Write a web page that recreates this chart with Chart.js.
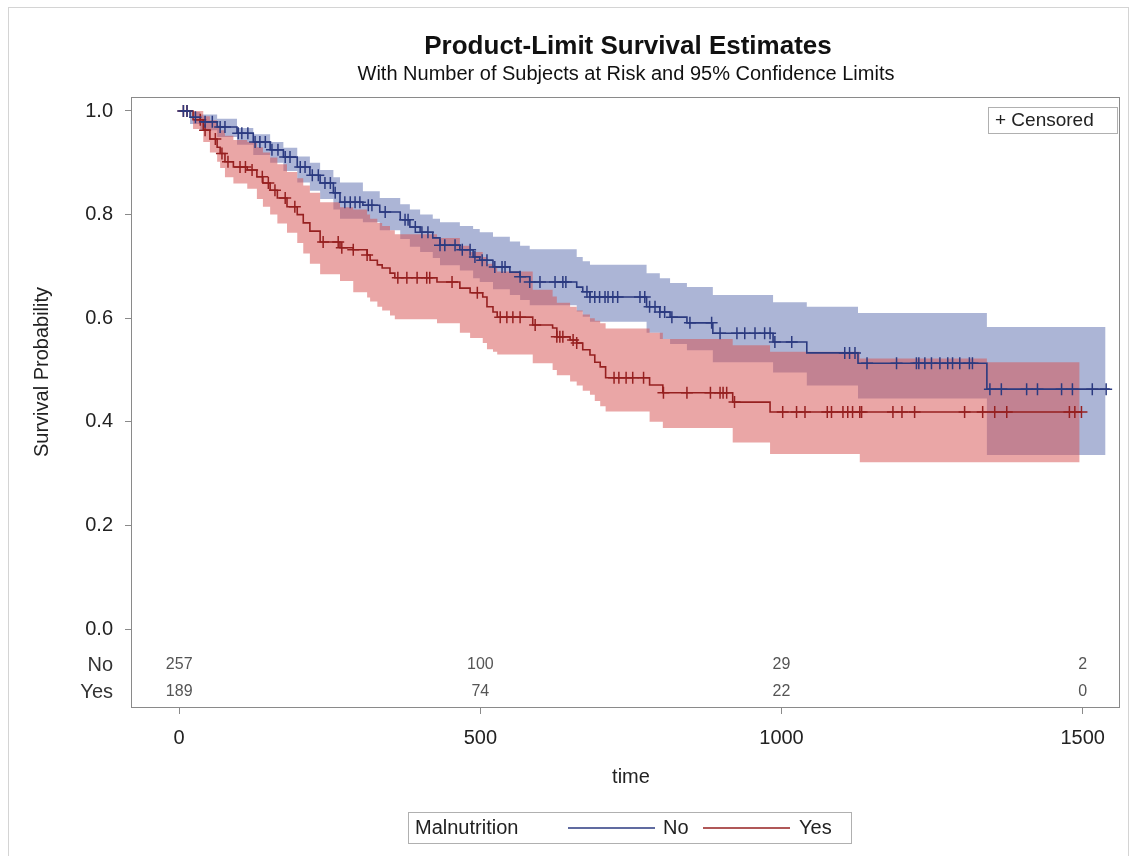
<!DOCTYPE html>
<html>
<head>
<meta charset="utf-8">
<script src="https://cdn.jsdelivr.net/npm/chart.js@4.4.1/dist/chart.umd.min.js"></script>
<style>
  body { margin: 0; background: #fff; }
  #wrap { position: relative; width: 1131px; height: 856px; }
  #frame { position: absolute; left: 8px; top: 7px; width: 1119px; height: 860px; border: 1px solid #d4d4d4; }
</style>
</head>
<body>
<div id="wrap">
  <div id="frame"></div>
  <canvas id="kmChart"></canvas>
</div>
<script>
// Kaplan-Meier steps (time of drop, survival after drop)
const noTimes = [0, 18, 35, 63, 96, 123, 151, 173, 196, 217, 234, 256, 267, 305, 333, 367, 383, 400, 421, 433, 466, 488, 499, 521, 549, 566, 582, 660, 670, 682, 776, 798, 815, 843, 886, 986, 1042, 1127, 1341, 1545];
const noSurv  = [1.0, 0.988, 0.979, 0.969, 0.957, 0.94, 0.925, 0.911, 0.892, 0.876, 0.861, 0.842, 0.824, 0.818, 0.805, 0.79, 0.776, 0.766, 0.755, 0.741, 0.732, 0.718, 0.712, 0.699, 0.689, 0.68, 0.67, 0.66, 0.651, 0.641, 0.622, 0.612, 0.602, 0.591, 0.571, 0.554, 0.533, 0.513, 0.463, 0.463];

const yesTimes = [0, 23, 40, 51, 63, 68, 76, 90, 113, 129, 139, 151, 163, 179, 196, 206, 217, 234, 267, 289, 312, 317, 329, 337, 350, 358, 428, 466, 483, 504, 511, 521, 528, 587, 620, 627, 649, 660, 670, 682, 690, 699, 708, 781, 803, 919, 981, 1498];
const yesSurv  = [1.0, 0.983, 0.963, 0.946, 0.93, 0.918, 0.902, 0.892, 0.886, 0.873, 0.861, 0.847, 0.832, 0.815, 0.8, 0.784, 0.768, 0.747, 0.736, 0.732, 0.722, 0.712, 0.703, 0.697, 0.687, 0.678, 0.67, 0.658, 0.649, 0.641, 0.622, 0.612, 0.602, 0.587, 0.581, 0.564, 0.558, 0.552, 0.539, 0.529, 0.515, 0.506, 0.485, 0.471, 0.456, 0.438, 0.419, 0.419];

// censored times
const noCensor = [7, 13, 27, 43, 55, 68, 76, 98, 104, 114, 126, 134, 143, 154, 164, 176, 184, 201, 209, 221, 231, 242, 251, 259, 275, 284, 292, 300, 314, 320, 342, 375, 380, 392, 403, 413, 433, 441, 458, 470, 483, 491, 503, 511, 524, 536, 541, 566, 582, 599, 624, 637, 642, 677, 682, 690, 698, 707, 712, 720, 728, 765, 773, 781, 790, 798, 806, 818, 848, 884, 898, 926, 939, 956, 972, 981, 989, 1017, 1105, 1113, 1122, 1142, 1191, 1224, 1228, 1238, 1249, 1263, 1276, 1284, 1296, 1312, 1317, 1346, 1365, 1407, 1425, 1465, 1483, 1516, 1539];
const yesCensor = [7, 13, 35, 43, 60, 71, 81, 101, 110, 121, 138, 148, 159, 176, 192, 239, 264, 270, 289, 312, 363, 378, 395, 411, 416, 453, 495, 533, 544, 554, 566, 591, 627, 632, 637, 654, 660, 722, 730, 742, 753, 771, 804, 843, 882, 898, 903, 909, 922, 1002, 1025, 1039, 1076, 1083, 1102, 1110, 1118, 1130, 1133, 1185, 1200, 1221, 1304, 1334, 1354, 1374, 1478, 1487, 1498];

// 95% confidence bands
const noBandTimes = [0, 18, 35, 63, 96, 123, 151, 173, 196, 217, 234, 256, 267, 305, 333, 367, 383, 400, 421, 433, 466, 488, 499, 521, 549, 566, 582, 660, 670, 682, 776, 798, 815, 843, 886, 986, 1042, 1127, 1341, 1538];
const noUpper = [1.0, 0.998, 0.993, 0.985, 0.967, 0.955, 0.94, 0.929, 0.912, 0.9, 0.886, 0.872, 0.862, 0.845, 0.832, 0.82, 0.81, 0.8, 0.792, 0.785, 0.778, 0.772, 0.766, 0.757, 0.748, 0.74, 0.733, 0.718, 0.71, 0.703, 0.687, 0.677, 0.668, 0.66, 0.645, 0.631, 0.622, 0.61, 0.583, 0.583];
const noLower = [1.0, 0.975, 0.963, 0.95, 0.935, 0.915, 0.9, 0.884, 0.862, 0.846, 0.83, 0.81, 0.792, 0.785, 0.77, 0.753, 0.738, 0.728, 0.716, 0.702, 0.692, 0.677, 0.67, 0.656, 0.645, 0.635, 0.625, 0.613, 0.603, 0.593, 0.572, 0.56, 0.55, 0.538, 0.515, 0.495, 0.47, 0.445, 0.336, 0.336];

const yesBandTimes = [0, 23, 40, 51, 63, 68, 76, 90, 113, 129, 139, 151, 163, 179, 196, 206, 217, 234, 267, 289, 312, 317, 329, 337, 350, 358, 428, 466, 483, 504, 511, 521, 528, 587, 620, 627, 649, 660, 670, 682, 690, 699, 708, 781, 803, 919, 981, 1130, 1341, 1495];
const yesUpper = [1.0, 1.0, 0.99, 0.982, 0.972, 0.963, 0.952, 0.944, 0.94, 0.93, 0.92, 0.91, 0.897, 0.882, 0.87, 0.856, 0.842, 0.824, 0.814, 0.81, 0.8, 0.792, 0.784, 0.778, 0.77, 0.762, 0.755, 0.74, 0.728, 0.718, 0.705, 0.697, 0.69, 0.655, 0.642, 0.63, 0.622, 0.615, 0.607, 0.6, 0.595, 0.59, 0.58, 0.572, 0.56, 0.548, 0.535, 0.522, 0.515, 0.515];
const yesLower = [1.0, 0.965, 0.94, 0.92, 0.902, 0.89, 0.872, 0.86, 0.85, 0.83, 0.815, 0.8, 0.783, 0.765, 0.745, 0.725, 0.705, 0.685, 0.672, 0.65, 0.64, 0.632, 0.622, 0.615, 0.605, 0.598, 0.59, 0.572, 0.562, 0.552, 0.54, 0.535, 0.53, 0.513, 0.5, 0.49, 0.478, 0.47, 0.46, 0.452, 0.44, 0.43, 0.42, 0.4, 0.388, 0.36, 0.338, 0.322, 0.322, 0.322];

// number at risk
const riskTimes = [0, 500, 1000, 1500];
const riskNo = [257, 100, 29, 2];
const riskYes = [189, 74, 22, 0];

const xTicks = [0, 500, 1000, 1500];
const yTicks = [0, 0.2, 0.4, 0.6, 0.8, 1.0];

const blueLine = '#2b3a80';
const redLine = '#962020';
const blueFill = 'rgba(104,120,180,0.55)';
const redFill = 'rgba(214,84,84,0.52)';
const FONT = '"Liberation Sans", Arial, sans-serif';

function pts(times, vals) {
  return times.map((t, i) => ({ x: t, y: vals[i] }));
}

// survival at time t from a step function
function survAt(times, surv, t) {
  let s = surv[0];
  for (let i = 0; i < times.length; i++) {
    if (times[i] <= t) s = surv[i];
  }
  return s;
}

function censorPts(cens, times, surv) {
  return cens.map(t => ({ x: t, y: survAt(times, surv, t) }));
}

const textPlugin = {
  id: 'kmText',
  afterDraw(chart) {
    const ctx = chart.ctx;
    const a = chart.chartArea;
    const xs = chart.scales.x;
    ctx.save();

    // frame
    ctx.strokeStyle = '#8a8a8a';
    ctx.lineWidth = 1;
    ctx.strokeRect(a.left + 0.5, a.top + 0.5, a.right - a.left - 1, a.bottom - a.top - 1);

    // titles
    ctx.fillStyle = '#111';
    ctx.textAlign = 'center';
    ctx.textBaseline = 'alphabetic';
    ctx.font = 'bold 26px ' + FONT;
    ctx.fillText('Product-Limit Survival Estimates', 628, 54);
    ctx.font = '20px ' + FONT;
    ctx.fillText('With Number of Subjects at Risk and 95% Confidence Limits', 626, 80);

    // axis titles
    ctx.fillStyle = '#222';
    ctx.font = '20px ' + FONT;
    ctx.fillText('time', 631, 783);
    ctx.save();
    ctx.translate(48, 372);
    ctx.rotate(-Math.PI / 2);
    ctx.fillText('Survival Probability', 0, 0);
    ctx.restore();

    // at risk table
    const yNo = 665, yYes = 692;
    ctx.textBaseline = 'middle';
    ctx.textAlign = 'right';
    ctx.fillStyle = '#333';
    ctx.font = '20px ' + FONT;
    ctx.fillText('No', 113, yNo);
    ctx.fillText('Yes', 113, yYes);
    ctx.textAlign = 'center';
    ctx.fillStyle = '#555';
    ctx.font = '16px ' + FONT;
    riskTimes.forEach((t, i) => {
      const px = xs.getPixelForValue(t);
      ctx.fillText(String(riskNo[i]), px, yNo);
      ctx.fillText(String(riskYes[i]), px, yYes);
    });

    // censored legend
    ctx.strokeStyle = '#b0b0b0';
    ctx.strokeRect(988.5, 107.5, 129, 26);
    ctx.fillStyle = '#222';
    ctx.textAlign = 'left';
    ctx.font = '19px ' + FONT;
    ctx.fillText('+ Censored', 995, 121);

    // group legend
    ctx.strokeStyle = '#b0b0b0';
    ctx.strokeRect(408.5, 812.5, 443, 31);
    ctx.fillStyle = '#222';
    ctx.font = '20px ' + FONT;
    ctx.fillText('Malnutrition', 415, 828);
    ctx.fillText('No', 663, 828);
    ctx.fillText('Yes', 799, 828);
    ctx.lineWidth = 1.5;
    ctx.strokeStyle = blueLine;
    ctx.beginPath(); ctx.moveTo(568, 828); ctx.lineTo(655, 828); ctx.stroke();
    ctx.strokeStyle = redLine;
    ctx.beginPath(); ctx.moveTo(703, 828); ctx.lineTo(790, 828); ctx.stroke();

    ctx.restore();
  }
};

const ctx = document.getElementById('kmChart').getContext('2d');
new Chart(ctx, {
  type: 'line',
  data: {
    datasets: [
      {
        label: 'No censored', type: 'scatter',
        data: censorPts(noCensor, noTimes, noSurv),
        pointStyle: 'cross', pointRadius: 6, borderColor: blueLine, borderWidth: 1.5
      },
      {
        label: 'Yes censored', type: 'scatter',
        data: censorPts(yesCensor, yesTimes, yesSurv),
        pointStyle: 'cross', pointRadius: 6, borderColor: redLine, borderWidth: 1.5
      },
      {
        label: 'No', data: pts(noTimes, noSurv), stepped: true,
        borderColor: blueLine, borderWidth: 1.6, pointRadius: 0, fill: false
      },
      {
        label: 'Yes', data: pts(yesTimes, yesSurv), stepped: true,
        borderColor: redLine, borderWidth: 1.6, pointRadius: 0, fill: false
      },
      {
        label: 'Yes upper', data: pts(yesBandTimes, yesUpper), stepped: true,
        borderWidth: 0, pointRadius: 0, backgroundColor: redFill, fill: '+1'
      },
      {
        label: 'Yes lower', data: pts(yesBandTimes, yesLower), stepped: true,
        borderWidth: 0, pointRadius: 0, fill: false
      },
      {
        label: 'No upper', data: pts(noBandTimes, noUpper), stepped: true,
        borderWidth: 0, pointRadius: 0, backgroundColor: blueFill, fill: '+1'
      },
      {
        label: 'No lower', data: pts(noBandTimes, noLower), stepped: true,
        borderWidth: 0, pointRadius: 0, fill: false
      }
    ]
  },
  options: {
    responsive: true,
    maintainAspectRatio: false,
    animation: false,
    layout: { padding: { top: 97, right: 11, left: 0, bottom: 0 } },
    plugins: {
      legend: { display: false },
      tooltip: { enabled: false },
      title: { display: false }
    },
    scales: {
      x: {
        type: 'linear', min: -80, max: 1562,
        afterBuildTicks: s => { s.ticks = xTicks.map(v => ({ value: v })); },
        afterFit: s => { s.height = 148; },
        grid: { drawOnChartArea: false, drawTicks: true, tickLength: 6, color: '#8a8a8a' },
        border: { display: false },
        ticks: {
          color: '#222', padding: 12, maxRotation: 0, font: { family: FONT, size: 20 },
          callback: v => String(v)
        }
      },
      y: {
        type: 'linear', min: -0.1525, max: 1.027,
        afterBuildTicks: s => { s.ticks = yTicks.map(v => ({ value: v })); },
        afterFit: s => { s.width = 131; },
        grid: { drawOnChartArea: false, drawTicks: true, tickLength: 6, color: '#8a8a8a' },
        border: { display: false },
        ticks: {
          color: '#222', padding: 12, font: { family: FONT, size: 20 },
          callback: v => v.toFixed(1)
        }
      }
    }
  },
  plugins: [textPlugin]
});
</script>
</body>
</html>
